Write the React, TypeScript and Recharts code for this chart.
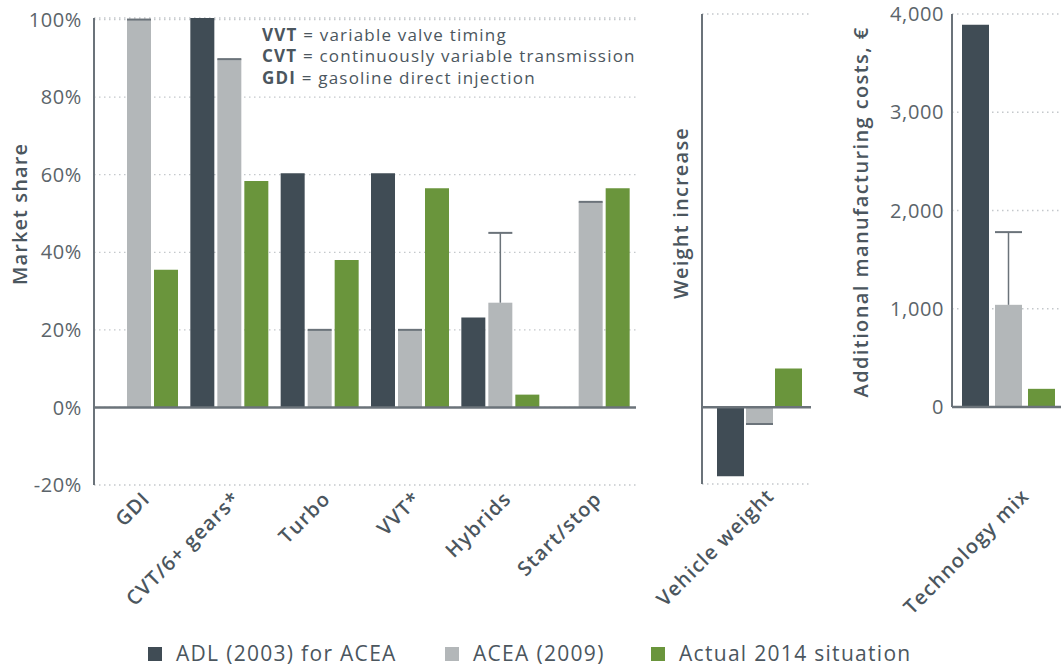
import React from 'react';
import { BarChart, Bar, XAxis, YAxis, CartesianGrid, ReferenceLine } from 'recharts';

const FONT = '"Open Sans", Lato, sans-serif';
const TEXT = '#4b565e';
const TICK = '#5b646a';
const DARK = '#404c55';
const GRAY = '#b3b7b9';
const GREEN = '#6a953c';
const AXIS = '#6b737a';
const GRID = '#c4c8cb';

const seriesNames = ['ADL (2003) for ACEA', 'ACEA (2009)', 'Actual 2014 situation'];
const seriesColors = [DARK, GRAY, GREEN];

const techCategories = ['GDI', 'CVT/6+ gears*', 'Turbo', 'VVT*', 'Hybrids', 'Start/stop'];
const techADL = [null, 100.4, 60.4, 60.4, 23.2, null];
const techACEA = [100, 89.8, 20, 20, 27, 53];
const techACEAHigh = [100, 89.8, 20, 20, 45, 53];
const techActual = [35.5, 58.4, 38, 56.5, 3.3, 56.5];
const shareTicks = [-20, 0, 20, 40, 60, 80, 100];

const weightCategories = ['Vehicle weight'];
const weightADL = [-70];
const weightACEA = [-17];
const weightACEAHigh = [-17];
const weightActual = [39.5];
const weightTicks = [-78, 0, 100, 200, 300, 400];

const costCategories = ['Technology mix'];
const costADL = [3890];
const costACEA = [1040];
const costACEAHigh = [1780];
const costActual = [185];
const costTicks = [0, 1000, 2000, 3000, 4000];

const abbreviations = [
  ['VVT', ' = variable valve timing'],
  ['CVT', ' = continuously variable transmission'],
  ['GDI', ' = gasoline direct injection'],
];

const build = (cats: string[], adl: any[], acea: any[], hi: any[], act: any[]) =>
  cats.map((name, i) => ({ name, adl: adl[i], acea: acea[i], aceaHigh: hi[i], actual: act[i] }));

const techData = build(techCategories, techADL, techACEA, techACEAHigh, techActual);
const weightData = build(weightCategories, weightADL, weightACEA, weightACEAHigh, weightActual);
const costData = build(costCategories, costADL, costACEA, costACEAHigh, costActual);

const RangeBar = (props: any) => {
  const { x, y, width, height, fill, payload } = props;
  const v = payload?.acea;
  const hi = payload?.aceaHigh;
  if (v == null || !height) return null;
  const top = Math.min(y, y + height);
  const h = Math.abs(height);
  const valueY = v >= 0 ? top : top + h;
  const zeroY = v >= 0 ? top + h : top;
  const ppu = h / Math.abs(v);
  const hiY = zeroY - hi * ppu;
  return (
    <g>
      <rect x={x} y={top} width={width} height={h} fill={fill} />
      {hi !== v && (
        <line x1={x + width / 2} x2={x + width / 2} y1={valueY} y2={hiY} stroke={AXIS} strokeWidth={1.5} />
      )}
      <line x1={x} x2={x + width} y1={hiY} y2={hiY} stroke={AXIS} strokeWidth={2} />
    </g>
  );
};

const makeTick = (dx: number, dy: number) => (p: any) => {
  const ax = p.x + dx;
  const ay = p.y + dy;
  return (
    <text
      x={ax}
      y={ay}
      transform={`rotate(-45 ${ax} ${ay})`}
      textAnchor="end"
      fontFamily={FONT}
      fontWeight={600}
      fontSize={20}
      letterSpacing={1.2}
      fill={TEXT}
    >
      {p.payload.value}
    </text>
  );
};

const yTickStyle = { fill: TICK, fontSize: 20, fontFamily: FONT, letterSpacing: 0.6 };
const gridProps = { vertical: false, stroke: GRID, strokeDasharray: '1.5 3.5', strokeWidth: 1.3 };

export default function App() {
  return (
    <div style={{ position: 'absolute', left: 0, top: 0, width: 1061, height: 666, overflow: 'hidden', background: '#fff', fontFamily: FONT }}>
      {/* Left panel: market share */}
      <div style={{ position: 'absolute', left: 0, top: 0 }}>
        <BarChart width={640} height={640} data={techData} margin={{ top: 18, right: 4, bottom: 0, left: 0 }} barSize={24} barGap={3}>
          <CartesianGrid {...gridProps} />
          <XAxis dataKey="name" axisLine={false} tickLine={false} tickSize={0} tickMargin={0} interval={0} height={155} tick={makeTick(12, 15)} />
          <YAxis
            domain={[-20, 100]}
            ticks={shareTicks}
            tickFormatter={(v: number) => `${v}%`}
            width={94}
            axisLine={{ stroke: AXIS, strokeWidth: 2 }}
            tickLine={false}
            tickSize={6}
            tickMargin={6}
            tick={yTickStyle}
          />
          <ReferenceLine y={0} stroke={AXIS} strokeWidth={2.5} />
          <Bar dataKey="adl" fill={DARK} isAnimationActive={false} />
          <Bar dataKey="acea" fill={GRAY} isAnimationActive={false} shape={RangeBar} />
          <Bar dataKey="actual" fill={GREEN} isAnimationActive={false} />
        </BarChart>
      </div>

      {/* Middle panel: weight */}
      <div style={{ position: 'absolute', left: 640, top: 0 }}>
        <BarChart width={180} height={640} data={weightData} margin={{ top: 14, right: 9, bottom: 0, left: 0 }} barSize={27} barGap={2}>
          <CartesianGrid {...gridProps} />
          <XAxis dataKey="name" axisLine={false} tickLine={false} tickSize={0} tickMargin={0} interval={0} height={156} padding={{ left: 6, right: 0 }} tick={makeTick(16, 13)} />
          <YAxis domain={[-78, 400]} ticks={weightTicks} width={62} axisLine={{ stroke: AXIS, strokeWidth: 2 }} tickLine={false} tick={false} />
          <ReferenceLine y={0} stroke={AXIS} strokeWidth={2.5} />
          <Bar dataKey="adl" fill={DARK} isAnimationActive={false} />
          <Bar dataKey="acea" fill={GRAY} isAnimationActive={false} shape={RangeBar} />
          <Bar dataKey="actual" fill={GREEN} isAnimationActive={false} />
        </BarChart>
      </div>

      {/* Right panel: cost */}
      <div style={{ position: 'absolute', left: 830, top: 0 }}>
        <BarChart width={235} height={640} data={costData} margin={{ top: 14, right: 0, bottom: 0, left: 0 }} barSize={27} barGap={6}>
          <CartesianGrid {...gridProps} />
          <XAxis dataKey="name" axisLine={false} tickLine={false} tickSize={0} tickMargin={0} interval={0} height={233} tick={makeTick(22, 90)} />
          <YAxis
            domain={[0, 4000]}
            ticks={costTicks}
            tickFormatter={(v: number) => v.toLocaleString('en-US')}
            width={122}
            axisLine={{ stroke: AXIS, strokeWidth: 2 }}
            tickLine={false}
            tickSize={4}
            tickMargin={4}
            tick={yTickStyle}
          />
          <ReferenceLine y={0} stroke={AXIS} strokeWidth={2.5} />
          <Bar dataKey="adl" fill={DARK} isAnimationActive={false} />
          <Bar dataKey="acea" fill={GRAY} isAnimationActive={false} shape={RangeBar} />
          <Bar dataKey="actual" fill={GREEN} isAnimationActive={false} />
        </BarChart>
      </div>

      {/* Titles, notes and legend */}
      <svg width={1061} height={666} style={{ position: 'absolute', left: 0, top: 0, pointerEvents: 'none' }}>
        <g fontFamily={FONT} fill={TEXT}>
          <text x={27} y={214} transform="rotate(-90 27 214)" textAnchor="middle" fontWeight={600} fontSize={20} letterSpacing={1.1}>Market share</text>
          <text x={688} y={213} transform="rotate(-90 688 213)" textAnchor="middle" fontWeight={600} fontSize={20} letterSpacing={1.2}>Weight increase</text>
          <text x={868} y={212} transform="rotate(-90 868 212)" textAnchor="middle" fontWeight={600} fontSize={20} letterSpacing={1.4}>Additional manufacturing costs, €</text>
          {abbreviations.map((a, i) => (
            <text key={a[0]} x={262} y={40.5 + i * 21.7} fontSize={17} letterSpacing={1.2}>
              <tspan fontWeight={700}>{a[0]}</tspan>
              <tspan>{a[1]}</tspan>
            </text>
          ))}
          {seriesNames.map((s, i) => {
            const xs = [148, 445, 651];
            return (
              <g key={s}>
                <rect x={xs[i]} y={647} width={14} height={14} fill={seriesColors[i]} />
                <text x={xs[i] + 28} y={661} fontSize={21} letterSpacing={1.3}>{s}</text>
              </g>
            );
          })}
        </g>
      </svg>
    </div>
  );
}
